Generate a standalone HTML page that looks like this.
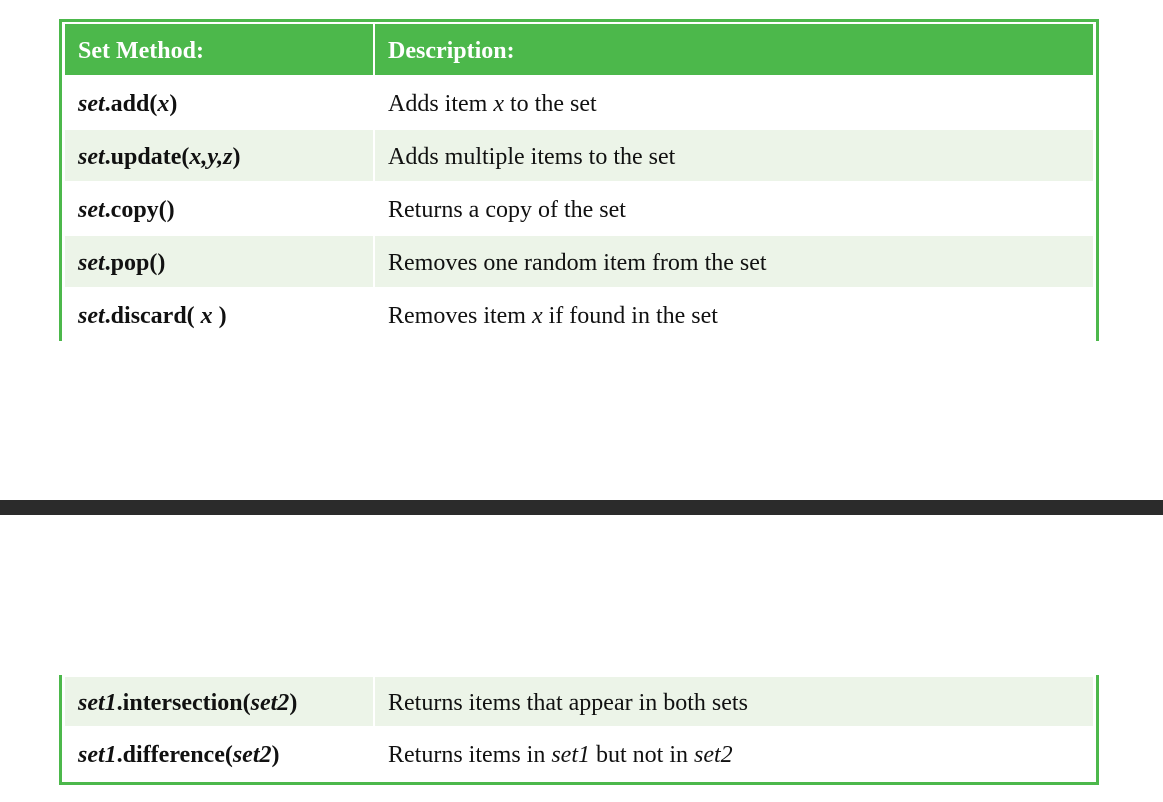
<!DOCTYPE html>
<html><head><style>
body{margin:0;width:1163px;height:802px;background:#fff;position:relative;overflow:hidden;font-family:"Liberation Serif","Times New Roman",serif;font-size:24px;color:#111}
.a{position:absolute}
.c{position:absolute;display:flex;align-items:center;box-sizing:border-box;padding-left:13px;padding-top:3px;white-space:nowrap}
.h{background:#4cb84b;color:#fff;font-weight:bold}
.s{background:#ecf4e8}
.w{background:#fff}
b{font-weight:bold}
</style></head><body>
<div class="a" style="left:59px;top:19px;width:1040px;height:3px;background:#4cb84b"></div>
<div class="a" style="left:59px;top:19px;width:3px;height:322px;background:#4cb84b"></div>
<div class="a" style="left:1096px;top:19px;width:3px;height:322px;background:#4cb84b"></div>

<div class="c h" style="left:65px;top:24px;width:308px;height:51px">Set Method:</div>
<div class="c h" style="left:375px;top:24px;width:718px;height:51px">Description:</div>

<div class="c w" style="left:65px;top:77px;width:308px;height:51px"><b><i>set</i>.add(<i>x</i>)</b></div>
<div class="c w" style="left:375px;top:77px;width:718px;height:51px">Adds item&nbsp;<i>x</i>&nbsp;to the set</div>

<div class="c s" style="left:65px;top:130px;width:308px;height:51px"><b><i>set</i>.update(<i>x,y,z</i>)</b></div>
<div class="c s" style="left:375px;top:130px;width:718px;height:51px">Adds multiple items to the set</div>

<div class="c w" style="left:65px;top:183px;width:308px;height:51px"><b><i>set</i>.copy()</b></div>
<div class="c w" style="left:375px;top:183px;width:718px;height:51px">Returns a copy of the set</div>

<div class="c s" style="left:65px;top:236px;width:308px;height:51px"><b><i>set</i>.pop()</b></div>
<div class="c s" style="left:375px;top:236px;width:718px;height:51px">Removes one random item from the set</div>

<div class="c w" style="left:65px;top:289px;width:308px;height:51px"><b><i>set</i>.discard( <i>x</i> )</b></div>
<div class="c w" style="left:375px;top:289px;width:718px;height:51px">Removes item&nbsp;<i>x</i>&nbsp;if found in the set</div>

<div class="a" style="left:0;top:500px;width:1163px;height:15px;background:#2b2b2b"></div>

<div class="a" style="left:59px;top:675px;width:3px;height:110px;background:#4cb84b"></div>
<div class="a" style="left:1096px;top:675px;width:3px;height:110px;background:#4cb84b"></div>
<div class="a" style="left:59px;top:782px;width:1040px;height:3px;background:#4cb84b"></div>

<div class="c s" style="left:65px;top:677px;width:308px;height:49px"><b><i>set1</i>.intersection(<i>set2</i>)</b></div>
<div class="c s" style="left:375px;top:677px;width:718px;height:49px">Returns items that appear in both sets</div>

<div class="c w" style="left:65px;top:728px;width:308px;height:52px"><b><i>set1</i>.difference(<i>set2</i>)</b></div>
<div class="c w" style="left:375px;top:728px;width:718px;height:52px">Returns items in&nbsp;<i>set1</i>&nbsp;but not in&nbsp;<i>set2</i></div>
</body></html>
